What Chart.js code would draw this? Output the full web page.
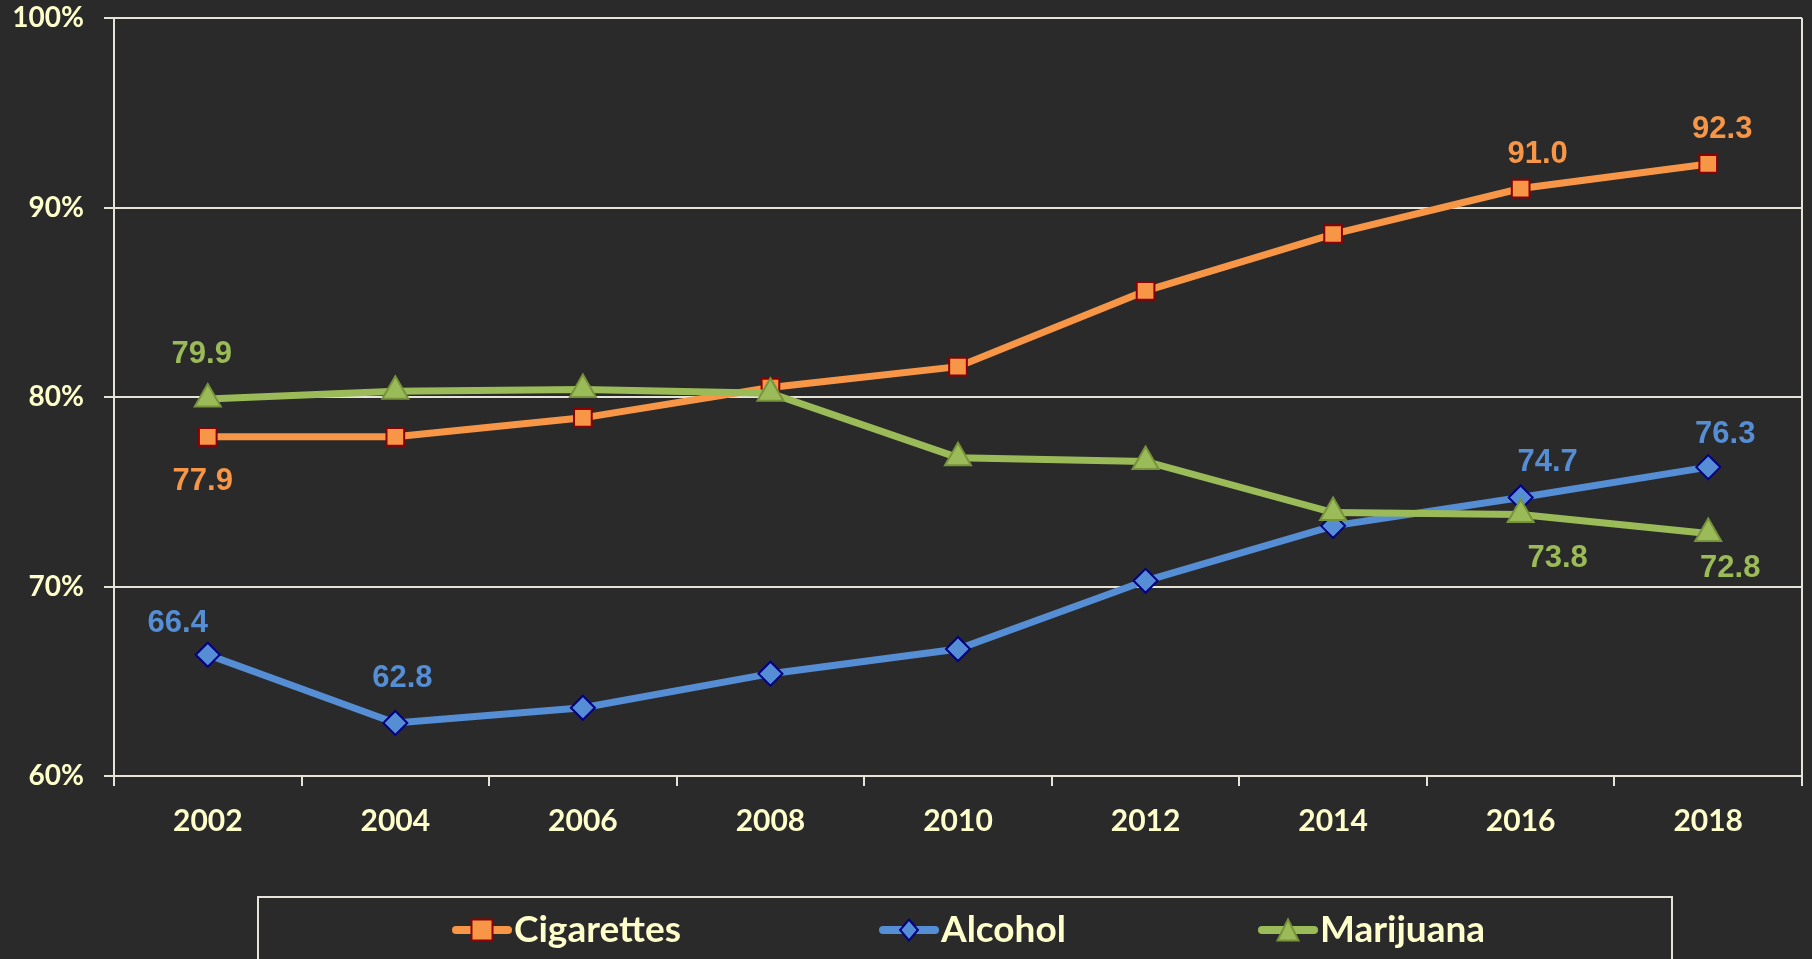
<!DOCTYPE html>
<html>
<head>
<meta charset="utf-8">
<script src="https://cdn.jsdelivr.net/npm/chart.js@4.4.0/dist/chart.umd.min.js"></script>
<style>
  html, body { margin: 0; padding: 0; background: #2a2a2a; }
  canvas { display: block; }
</style>
</head>
<body>
<canvas id="graph" width="1812" height="959"></canvas>
<script>
// data
var years = ['2002', '2004', '2006', '2008', '2010', '2012', '2014', '2016', '2018'];
var cigarettes = [77.9, 77.9, 78.9, 80.5, 81.6, 85.6, 88.6, 91.0, 92.3];
var alcohol = [66.4, 62.8, 63.6, 65.4, 66.7, 70.3, 73.2, 74.7, 76.3];
var marijuana = [79.9, 80.3, 80.4, 80.2, 76.8, 76.6, 73.9, 73.8, 72.8];
var yTicks = [60, 70, 80, 90, 100];
var seriesNames = ['Cigarettes', 'Alcohol', 'Marijuana'];

var gridColor = '#e6e3d8';
var tickColor = '#ffffcc';
var bg = '#2a2a2a';

// where the value labels go (point index -> [dx, dy] from the point)
var cigLabelSpots = { 0: [-5, 45], 7: [17, -34], 8: [14, -34] };
var alcLabelSpots = { 0: [-30, -31], 1: [7, -44], 7: [27, -35], 8: [17, -33] };
var marLabelSpots = { 0: [-6, -44], 7: [37, 44], 8: [22, 35] };

const valueLabels = {
  id: 'valueLabels',
  afterDatasetsDraw(chart) {
    const ctx = chart.ctx;
    ctx.save();
    ctx.font = 'bold 31px "Liberation Sans", Arial, sans-serif';
    ctx.textAlign = 'center';
    ctx.textBaseline = 'middle';
    chart.data.datasets.forEach((ds, di) => {
      const meta = chart.getDatasetMeta(di);
      Object.keys(ds.labelSpots).forEach((k) => {
        const pt = meta.data[k];
        const off = ds.labelSpots[k];
        ctx.fillStyle = ds.borderColor;
        ctx.fillText(ds.data[k].toFixed(1), pt.x + off[0], pt.y + off[1]);
      });
    });
    ctx.restore();
  }
};

const frame = {
  id: 'frame',
  beforeDraw(chart) {
    const ctx = chart.ctx;
    ctx.save();
    ctx.fillStyle = bg;
    ctx.fillRect(0, 0, chart.width, chart.height);
    ctx.restore();
  },
  beforeDatasetsDraw(chart) {
    const a = chart.chartArea;
    const ctx = chart.ctx;
    ctx.save();
    ctx.strokeStyle = gridColor;
    ctx.lineWidth = 2;
    ctx.beginPath();
    ctx.moveTo(a.right, a.top);
    ctx.lineTo(a.right, a.bottom);
    ctx.stroke();
    ctx.restore();
  }
};

function drawMarker(ctx, style, x, y, r, fill, stroke) {
  ctx.fillStyle = fill;
  ctx.strokeStyle = stroke;
  ctx.lineWidth = 2;
  ctx.beginPath();
  if (style === 'rect') {
    ctx.rect(x - r, y - r, 2 * r, 2 * r);
  } else if (style === 'rectRot') {
    ctx.moveTo(x, y - r);
    ctx.lineTo(x + r * 0.85, y);
    ctx.lineTo(x, y + r);
    ctx.lineTo(x - r * 0.85, y);
    ctx.closePath();
  } else {
    ctx.moveTo(x, y - r);
    ctx.lineTo(x + r, y + r);
    ctx.lineTo(x - r, y + r);
    ctx.closePath();
  }
  ctx.fill();
  ctx.stroke();
}

const boxLegend = {
  id: 'boxLegend',
  afterDraw(chart) {
    const ctx = chart.ctx;
    ctx.save();
    ctx.strokeStyle = gridColor;
    ctx.lineWidth = 2;
    ctx.strokeRect(258, 897, 1414, 80);
    const starts = [452, 879, 1258];
    const cy = 930;
    ctx.font = 'bold 37px Lato, sans-serif';
    ctx.textBaseline = 'middle';
    chart.data.datasets.forEach((ds, i) => {
      const x0 = starts[i];
      ctx.strokeStyle = ds.borderColor;
      ctx.lineWidth = 8;
      ctx.lineCap = 'round';
      ctx.beginPath();
      ctx.moveTo(x0 + 4, cy);
      ctx.lineTo(x0 + 56, cy);
      ctx.stroke();
      drawMarker(ctx, ds.pointStyle, x0 + 30, cy, 10.5, ds.pointBackgroundColor, ds.pointBorderColor);
      ctx.fillStyle = tickColor;
      ctx.textAlign = 'left';
      ctx.fillText(ds.label, x0 + 62, cy);
    });
    ctx.restore();
  }
};

new Chart(document.getElementById('graph'), {
  type: 'line',
  data: {
    labels: years,
    datasets: [
      {
        label: seriesNames[0],
        data: cigarettes,
        borderColor: '#f79646',
        borderWidth: 7,
        pointStyle: 'rect',
        pointRadius: 12.5,
        pointBackgroundColor: '#f79646',
        pointBorderColor: '#8b0000',
        pointBorderWidth: 2,
        order: 2,
        labelSpots: cigLabelSpots
      },
      {
        label: seriesNames[1],
        data: alcohol,
        borderColor: '#558ed5',
        borderWidth: 7,
        pointStyle: 'rectRot',
        pointRadius: 12,
        pointBackgroundColor: '#558ed5',
        pointBorderColor: '#000080',
        pointBorderWidth: 2,
        order: 1,
        labelSpots: alcLabelSpots
      },
      {
        label: seriesNames[2],
        data: marijuana,
        borderColor: '#9bbb59',
        borderWidth: 7,
        pointStyle: 'triangle',
        pointRadius: 15,
        pointBackgroundColor: '#9bbb59',
        pointBorderColor: '#77933c',
        pointBorderWidth: 2,
        order: 0,
        labelSpots: marLabelSpots
      }
    ]
  },
  options: {
    responsive: false,
    devicePixelRatio: 1,
    animation: false,
    layout: { autoPadding: false, padding: { top: 18, right: 10, left: 0, bottom: 0 } },
    plugins: {
      legend: { display: false },
      tooltip: { enabled: false }
    },
    scales: {
      x: {
        offset: true,
        grid: { offset: true, drawOnChartArea: false, color: gridColor, lineWidth: 2, tickLength: 10 },
        border: { color: gridColor, width: 2 },
        ticks: { color: tickColor, padding: 17, font: { family: 'Lato', weight: 'bold', size: 30 } },
        afterFit: (s) => { s.height = 183; s.paddingLeft = 0; s.paddingRight = 0; }
      },
      y: {
        min: yTicks[0],
        max: yTicks[yTicks.length - 1],
        ticks: {
          stepSize: 10,
          color: tickColor,
          padding: 20,
          font: { family: 'Lato', weight: 'bold', size: 28 },
          callback: (v) => v + '%'
        },
        grid: { color: gridColor, lineWidth: 2, tickLength: 10 },
        border: { color: gridColor, width: 2 },
        afterFit: (s) => { s.width = 114; s.paddingTop = 0; s.paddingBottom = 0; }
      }
    }
  },
  plugins: [frame, valueLabels, boxLegend]
});
</script>
</body>
</html>
